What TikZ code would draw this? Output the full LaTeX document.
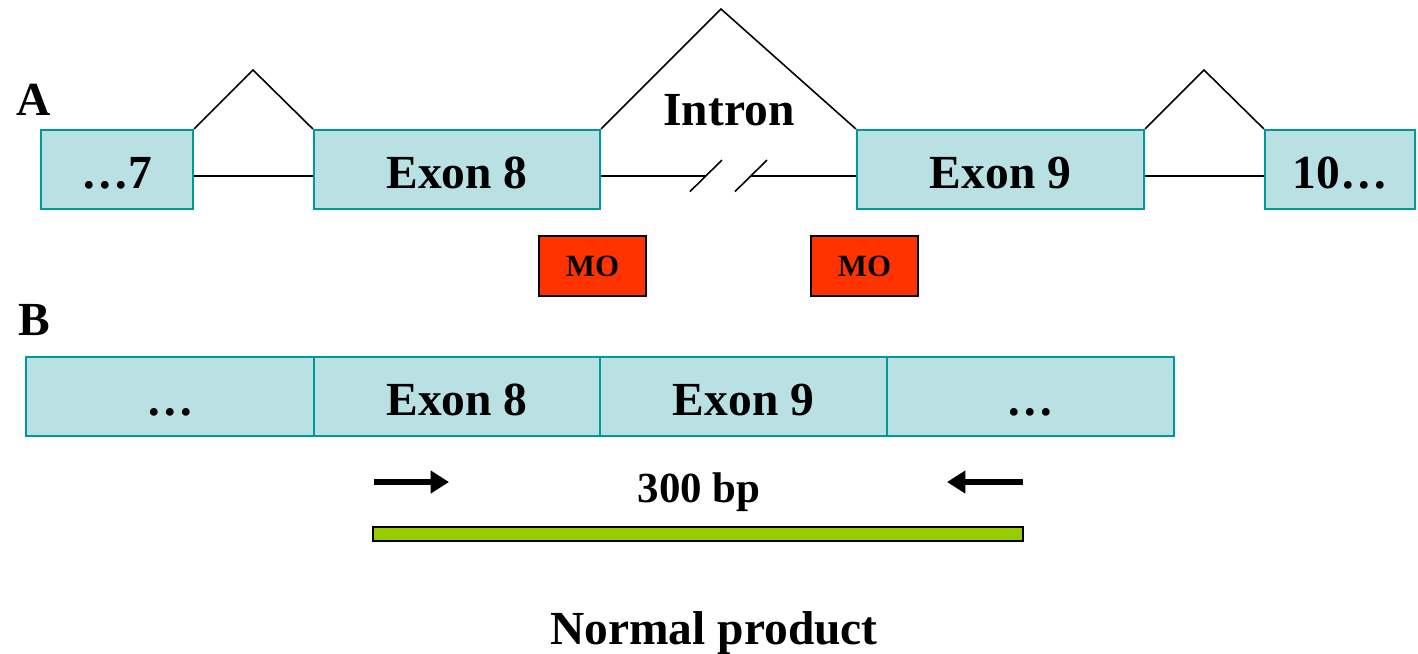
\documentclass[tikz,border=0pt]{standalone}
\usepackage{fontspec}
\setmainfont{Liberation Serif}
\usetikzlibrary{arrows.meta}
\definecolor{exfill}{RGB}{185,224,227}
\definecolor{exborder}{RGB}{0,153,153}
\definecolor{mored}{RGB}{255,51,0}
\definecolor{prodgreen}{RGB}{153,204,0}
\tikzset{
  exonbox/.style={draw=exborder, fill=exfill, line width=0.6pt, inner sep=0pt,
    minimum height=0.79cm, text height=0.38cm, text depth=0pt,
    font=\fontsize{13.5}{16}\selectfont\bfseries},
  mobox/.style={draw=black, fill=mored, line width=0.5pt, inner sep=0pt,
    minimum width=1.07cm, minimum height=0.60cm,
    font=\fontsize{8.8}{10}\selectfont\bfseries},
  bigtext/.style={inner sep=0pt, font=\fontsize{13.5}{16}\selectfont\bfseries},
  intronline/.style={draw=black, line width=0.45pt},
  primer/.style={line width=1.9pt, -{Triangle[length=5.2pt,width=6.2pt]}},
}
\begin{document}
\begin{tikzpicture}[x=0.01cm,y=-0.01cm]
\useasboundingbox (0,0) rectangle (1418,653);
% Row A
\node[bigtext] (lA) at (34,100) {A};
\node[exonbox, minimum width=1.52cm] (e7) at (117,169.5) {…7};
\node[exonbox, minimum width=2.86cm] (e8) at (457,169.5) {Exon 8};
\node[exonbox, minimum width=2.87cm] (e9) at (1000.5,169.5) {Exon 9};
\node[exonbox, minimum width=1.50cm] (e10) at (1340,169.5) {10…};
\coordinate (lineY) at (0,176);
\coordinate (p1) at (253,70);
\coordinate (p2) at (721,9);
\coordinate (p3) at (1204,70);
\draw[intronline] (e7.north east) -- (p1) -- (e8.north west);
\draw[intronline] (e8.north east) -- (p2) -- (e9.north west);
\draw[intronline] (e9.north east) -- (p3) -- (e10.north west);
\draw[intronline] (e7.east |- lineY) -- (e8.west |- lineY);
\draw[intronline] (e9.east |- lineY) -- (e10.west |- lineY);
\coordinate (br1) at (706,176);
\coordinate (br2) at (751,176);
\coordinate (s1a) at (690,191.5);
\coordinate (s1b) at (722,160);
\coordinate (s2a) at (735,191.5);
\coordinate (s2b) at (767,160);
\draw[intronline] (e8.east |- lineY) -- (br1);
\draw[intronline] (br2) -- (e9.west |- lineY);
\draw[intronline] (s1a) -- (s1b);
\draw[intronline] (s2a) -- (s2b);
\node[bigtext] (intron) at (729,110) {Intron};
\node[mobox] (mo1) at (592.5,266) {MO};
\node[mobox] (mo2) at (864.5,266) {MO};
% Row B
\node[bigtext] (lB) at (34,320) {B};
\node[exonbox, minimum width=2.88cm] (b1) at (170,396.5) {…};
\node[exonbox, minimum width=2.86cm] (b2) at (457,396.5) {Exon 8};
\node[exonbox, minimum width=2.87cm] (b3) at (743.5,396.5) {Exon 9};
\node[exonbox, minimum width=2.87cm] (b4) at (1030.5,396.5) {…};
\coordinate (fA) at (374,482);
\coordinate (fB) at (449,482);
\coordinate (rA) at (1023,482);
\coordinate (rB) at (947,482);
\draw[primer] (fA) -- (fB);
\draw[primer] (rA) -- (rB);
\node[bigtext, font=\fontsize{12.2}{14}\selectfont\bfseries] (bp) at (699,492) {300 bp};
\node[draw=black, fill=prodgreen, line width=0.5pt, inner sep=0pt,
  minimum width=6.50cm, minimum height=0.14cm] (prod) at (698,534) {};
\node[bigtext] (np) at (714,633) {Normal product};
\end{tikzpicture}
\end{document}
